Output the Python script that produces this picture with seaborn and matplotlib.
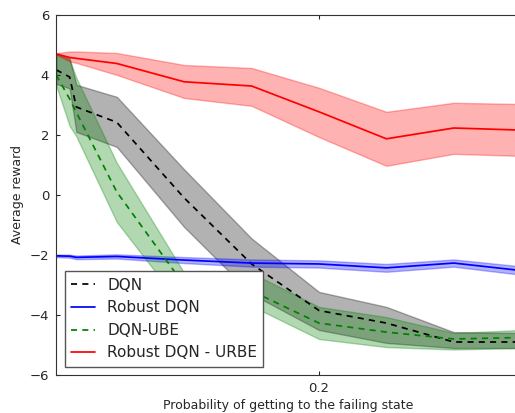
import numpy as np
import pandas as pd
import seaborn as sns
import matplotlib.pyplot as plt
from matplotlib.ticker import MultipleLocator

# probability of getting to the failing state
x = [0.005, 0.015, 0.02, 0.05, 0.1, 0.15, 0.2, 0.25, 0.3, 0.35]

dqn = [4.17, 3.93, 2.93, 2.42, -0.1, -2.3, -3.85, -4.27, -4.9, -4.9]
dqn_lo = [3.7, 3.55, 2.1, 1.6, -1.07, -3.3, -4.5, -4.93, -5.1, -5.1]
dqn_hi = [4.7, 4.55, 3.67, 3.27, 0.85, -1.45, -3.23, -3.73, -4.57, -4.6]

robust = [-2.03, -2.04, -2.08, -2.05, -2.17, -2.27, -2.3, -2.43, -2.27, -2.52]
robust_lo = [-2.07, -2.09, -2.14, -2.12, -2.27, -2.39, -2.42, -2.56, -2.39, -2.66]
robust_hi = [-1.99, -1.99, -2.02, -1.98, -2.07, -2.15, -2.18, -2.30, -2.15, -2.38]

ube = [4.0, 3.2, 2.75, 0.1, -3.0, -3.2, -4.27, -4.57, -4.8, -4.75]
ube_lo = [3.65, 2.3, 1.95, -0.9, -3.8, -3.7, -4.8, -5.07, -5.15, -5.1]
ube_hi = [4.7, 4.5, 3.9, 1.07, -2.6, -2.6, -3.73, -4.07, -4.6, -4.5]

urbe = [4.7, 4.58, 4.55, 4.38, 3.77, 3.63, 2.77, 1.87, 2.23, 2.16]
urbe_lo = [4.68, 4.45, 4.4, 4.0, 3.23, 2.97, 1.93, 0.97, 1.37, 1.3]
urbe_hi = [4.72, 4.78, 4.78, 4.73, 4.33, 4.23, 3.57, 2.77, 3.07, 3.03]

sns.set_style("ticks")
plt.rcParams['font.family'] = ['DejaVu Sans']
plt.rcParams['xtick.direction'] = 'in'
plt.rcParams['ytick.direction'] = 'in'
plt.rcParams['xtick.top'] = True
plt.rcParams['ytick.right'] = True
plt.rcParams['lines.dashed_pattern'] = [3.5, 3.0]

fig = plt.figure(figsize=(5.15, 4.13), dpi=100)
ax = fig.add_axes([0.109, 0.092, 0.903, 0.872])

series = [
    ("DQN", dqn, dqn_lo, dqn_hi, "k", "--"),
    ("Robust DQN", robust, robust_lo, robust_hi, "b", "-"),
    ("DQN-UBE", ube, ube_lo, ube_hi, "g", "--"),
    ("Robust DQN - URBE", urbe, urbe_lo, urbe_hi, "r", "-"),
]

for name, y, lo, hi, c, ls in series:
    df = pd.DataFrame({"x": x, "y": y})
    sns.lineplot(data=df, x="x", y="y", ax=ax, color=c, linestyle=ls,
                 linewidth=1.25, label=name, errorbar=None)
    ax.fill_between(x, lo, hi, color=c, alpha=0.3, linewidth=1)

ax.set_xlim(0.005, 0.35)
ax.set_ylim(-6, 6)
ax.xaxis.set_major_locator(MultipleLocator(0.2))
ax.yaxis.set_major_locator(MultipleLocator(2))
ax.tick_params(labelsize=9.5, length=3, width=0.8, pad=5)
for s in ax.spines.values():
    s.set_color('#333333')

ax.set_xlabel("Probability of getting to the failing state", fontsize=9, labelpad=3)
ax.set_ylabel("Average reward", fontsize=9, labelpad=4)

leg = ax.legend(loc='lower left', fontsize=11, fancybox=False, framealpha=1,
                edgecolor='#555555', handlelength=1.6, borderaxespad=0.55)
leg.get_frame().set_linewidth(1.0)

fig.savefig("out.png", dpi=100)
